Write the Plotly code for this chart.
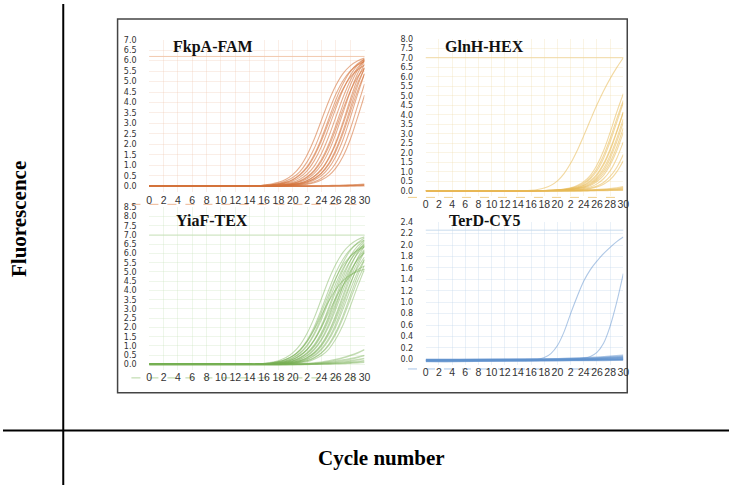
import plotly.graph_objects as go

# ---------------- data ----------------
cycles = list(range(0, 31))
baseline_zeros = [0.0] * 16          # cycles 0..15 sit on the baseline
sparse_cycles = [0, 5, 10, 15, 20, 25, 30]

x_tick_vals = list(range(0, 31, 2))
x_tick_text = ["0", "2", "4", "6", "8", "10", "12", "14", "16", "18", "20", "2", "24", "26", "28", "30"]

panel_titles = ["FkpA-FAM", "GlnH-HEX", "YiaF-TEX", "TerD-CY5"]

# values for cycles 16..30
fkpa_rising = [
    [0.06, 0.10, 0.18, 0.32, 0.55, 0.92, 1.49, 2.25, 3.15, 4.05, 4.81, 5.38, 5.75, 5.98, 6.12],
    [0.04, 0.07, 0.13, 0.24, 0.41, 0.70, 1.16, 1.81, 2.65, 3.55, 4.39, 5.04, 5.50, 5.79, 5.96],
    [0.03, 0.06, 0.10, 0.18, 0.32, 0.56, 0.93, 1.51, 2.28, 3.20, 4.12, 4.89, 5.47, 5.84, 6.08],
    [0.02, 0.04, 0.08, 0.14, 0.25, 0.43, 0.73, 1.22, 1.90, 2.78, 3.72, 4.60, 5.28, 5.77, 6.07],
    [0.02, 0.03, 0.06, 0.11, 0.18, 0.33, 0.57, 0.96, 1.56, 2.36, 3.30, 4.24, 5.04, 5.64, 6.03],
    [0.01, 0.03, 0.05, 0.08, 0.14, 0.26, 0.45, 0.77, 1.27, 1.99, 2.90, 3.90, 4.81, 5.53, 6.03],
    [0.01, 0.02, 0.04, 0.06, 0.11, 0.20, 0.35, 0.61, 1.02, 1.65, 2.50, 3.50, 4.50, 5.35, 5.98],
    [0.01, 0.01, 0.03, 0.05, 0.09, 0.15, 0.27, 0.48, 0.81, 1.35, 2.10, 3.07, 4.13, 5.10, 5.85],
    [0.01, 0.01, 0.02, 0.04, 0.07, 0.12, 0.21, 0.37, 0.64, 1.08, 1.75, 2.64, 3.70, 4.76, 5.65],
    [0.01, 0.01, 0.01, 0.03, 0.05, 0.09, 0.16, 0.29, 0.50, 0.86, 1.42, 2.22, 3.25, 4.35, 5.38],
    [0.00, 0.01, 0.01, 0.02, 0.04, 0.07, 0.12, 0.21, 0.38, 0.66, 1.11, 1.79, 2.71, 3.80, 4.89],
    [0.00, 0.00, 0.01, 0.01, 0.03, 0.05, 0.09, 0.16, 0.29, 0.50, 0.86, 1.42, 2.22, 3.25, 4.35],
    [0.03, 0.06, 0.10, 0.17, 0.30, 0.53, 0.88, 1.43, 2.17, 3.04, 3.91, 4.65, 5.20, 5.55, 5.78],
    [0.01, 0.03, 0.05, 0.08, 0.13, 0.24, 0.42, 0.72, 1.19, 1.87, 2.73, 3.67, 4.52, 5.20, 5.67],
    [0.01, 0.01, 0.03, 0.05, 0.09, 0.14, 0.26, 0.46, 0.78, 1.30, 2.02, 2.95, 3.96, 4.90, 5.62],
    [0.01, 0.01, 0.02, 0.04, 0.07, 0.11, 0.20, 0.35, 0.61, 1.03, 1.66, 2.51, 3.52, 4.52, 5.37],
]
fkpa_flat = [
    [0.00, 0.00, 0.00, 0.00, 0.00, 0.00, 0.00, 0.01, 0.01, 0.02, 0.03, 0.04, 0.05, 0.07, 0.09],
    [0.00, 0.00, 0.00, 0.00, 0.00, 0.00, 0.00, 0.00, 0.01, 0.01, 0.02, 0.02, 0.03, 0.04, 0.05],
    [0.00, 0.00, 0.00, 0.00, 0.00, 0.00, 0.00, 0.00, 0.00, 0.01, 0.01, 0.01, 0.02, 0.02, 0.03],
]

glnh_rising = [
    [0.02, 0.06, 0.14, 0.28, 0.52, 0.90, 1.44, 2.12, 2.90, 3.72, 4.52, 5.25, 5.90, 6.48, 7.00],
    [0.00, 0.01, 0.01, 0.03, 0.05, 0.09, 0.15, 0.27, 0.48, 0.81, 1.35, 2.10, 3.07, 4.13, 5.10],
    [0.00, 0.01, 0.01, 0.02, 0.04, 0.06, 0.12, 0.20, 0.36, 0.63, 1.05, 1.70, 2.57, 3.60, 4.63],
    [0.00, 0.00, 0.01, 0.01, 0.03, 0.05, 0.09, 0.15, 0.27, 0.48, 0.81, 1.35, 2.10, 3.07, 4.13],
    [0.00, 0.00, 0.01, 0.01, 0.02, 0.04, 0.06, 0.12, 0.20, 0.36, 0.63, 1.05, 1.70, 2.57, 3.60],
    [0.00, 0.00, 0.00, 0.01, 0.01, 0.03, 0.05, 0.09, 0.15, 0.27, 0.48, 0.81, 1.35, 2.10, 3.07],
    [0.00, 0.00, 0.00, 0.01, 0.01, 0.02, 0.04, 0.06, 0.12, 0.20, 0.36, 0.63, 1.05, 1.70, 2.57],
    [0.00, 0.01, 0.01, 0.02, 0.03, 0.05, 0.10, 0.17, 0.30, 0.53, 0.88, 1.43, 2.20, 3.14, 4.14],
    [0.00, 0.00, 0.01, 0.01, 0.02, 0.04, 0.07, 0.13, 0.23, 0.41, 0.70, 1.17, 1.85, 2.75, 3.78],
    [0.00, 0.00, 0.00, 0.01, 0.02, 0.03, 0.06, 0.10, 0.18, 0.32, 0.55, 0.93, 1.50, 2.30, 3.30],
    [0.00, 0.01, 0.01, 0.02, 0.04, 0.07, 0.13, 0.23, 0.41, 0.70, 1.17, 1.85, 2.75, 3.78, 4.75],
    [0.00, 0.00, 0.00, 0.00, 0.01, 0.01, 0.02, 0.04, 0.08, 0.14, 0.25, 0.43, 0.75, 1.22, 1.90],
    [0.00, 0.00, 0.00, 0.00, 0.00, 0.01, 0.02, 0.03, 0.06, 0.11, 0.19, 0.34, 0.58, 0.99, 1.58],
]
glnh_flat = [
    [0.00, 0.00, 0.00, 0.00, 0.00, 0.00, 0.01, 0.01, 0.02, 0.03, 0.05, 0.07, 0.10, 0.14, 0.20],
    [0.00, 0.00, 0.00, 0.00, 0.00, 0.00, 0.00, 0.01, 0.01, 0.02, 0.03, 0.04, 0.06, 0.09, 0.13],
    [0.00, 0.00, 0.00, 0.00, 0.00, 0.00, 0.00, 0.00, 0.01, 0.01, 0.02, 0.03, 0.04, 0.05, 0.07],
    [0.00, 0.00, 0.00, 0.00, 0.00, 0.00, 0.00, 0.00, 0.00, 0.01, 0.01, 0.01, 0.02, 0.03, 0.04],
]

yiaf_rising = [
    [0.06, 0.11, 0.20, 0.36, 0.62, 1.04, 1.68, 2.53, 3.55, 4.57, 5.42, 6.06, 6.48, 6.75, 6.90],
    [0.05, 0.08, 0.15, 0.27, 0.46, 0.79, 1.31, 2.04, 2.99, 4.01, 4.96, 5.69, 6.21, 6.54, 6.73],
    [0.04, 0.06, 0.12, 0.20, 0.36, 0.63, 1.05, 1.70, 2.57, 3.60, 4.63, 5.50, 6.15, 6.57, 6.84],
    [0.03, 0.06, 0.11, 0.19, 0.34, 0.59, 0.99, 1.60, 2.43, 3.40, 4.37, 5.20, 5.81, 6.21, 6.46],
    [0.03, 0.05, 0.09, 0.15, 0.27, 0.48, 0.81, 1.35, 2.10, 3.07, 4.13, 5.10, 5.85, 6.39, 6.72],
    [0.03, 0.05, 0.08, 0.14, 0.26, 0.46, 0.78, 1.29, 2.01, 2.95, 3.95, 4.89, 5.61, 6.12, 6.44],
    [0.02, 0.04, 0.07, 0.12, 0.20, 0.37, 0.64, 1.07, 1.72, 2.61, 3.65, 4.69, 5.58, 6.23, 6.66],
    [0.02, 0.04, 0.06, 0.11, 0.20, 0.35, 0.61, 1.02, 1.65, 2.50, 3.50, 4.50, 5.35, 5.98, 6.39],
    [0.01, 0.03, 0.05, 0.09, 0.16, 0.28, 0.49, 0.84, 1.38, 2.16, 3.16, 4.24, 5.24, 6.02, 6.56],
    [0.01, 0.03, 0.05, 0.08, 0.15, 0.27, 0.46, 0.79, 1.31, 2.04, 2.99, 4.01, 4.96, 5.69, 6.21],
    [0.01, 0.02, 0.04, 0.07, 0.12, 0.21, 0.38, 0.65, 1.10, 1.77, 2.68, 3.75, 4.82, 5.73, 6.41],
    [0.01, 0.02, 0.04, 0.06, 0.12, 0.20, 0.36, 0.63, 1.05, 1.70, 2.57, 3.60, 4.63, 5.50, 6.15],
    [0.01, 0.02, 0.03, 0.05, 0.09, 0.16, 0.29, 0.50, 0.85, 1.40, 2.19, 3.20, 4.30, 5.31, 6.10],
    [0.01, 0.01, 0.03, 0.05, 0.08, 0.15, 0.27, 0.46, 0.79, 1.31, 2.04, 2.99, 4.01, 4.96, 5.69],
    [0.01, 0.01, 0.02, 0.04, 0.07, 0.12, 0.21, 0.37, 0.64, 1.08, 1.75, 2.64, 3.70, 4.76, 5.65],
    [0.01, 0.01, 0.02, 0.04, 0.06, 0.11, 0.20, 0.35, 0.61, 1.02, 1.65, 2.50, 3.50, 4.50, 5.35],
    [0.00, 0.01, 0.01, 0.03, 0.05, 0.09, 0.15, 0.28, 0.48, 0.82, 1.37, 2.13, 3.12, 4.18, 5.17],
    [0.04, 0.08, 0.14, 0.25, 0.44, 0.75, 1.23, 1.93, 2.82, 3.78, 4.67, 5.37, 5.85, 6.16, 6.35],
    [0.02, 0.03, 0.06, 0.11, 0.18, 0.33, 0.57, 0.96, 1.56, 2.36, 3.30, 4.24, 5.04, 5.64, 6.03],
    [0.01, 0.02, 0.03, 0.06, 0.11, 0.19, 0.34, 0.59, 0.99, 1.60, 2.43, 3.40, 4.37, 5.20, 5.81],
    [0.03, 0.05, 0.09, 0.16, 0.28, 0.49, 0.82, 1.32, 2.00, 2.80, 3.60, 4.28, 4.78, 5.11, 5.32],
    [0.05, 0.08, 0.15, 0.27, 0.46, 0.77, 1.25, 1.89, 2.65, 3.41, 4.05, 4.53, 4.84, 5.03, 5.15],
]
yiaf_flat = [
    [0.00, 0.00, 0.00, 0.01, 0.02, 0.03, 0.05, 0.08, 0.12, 0.18, 0.26, 0.36, 0.48, 0.62, 0.80],
    [0.00, 0.00, 0.00, 0.00, 0.01, 0.02, 0.03, 0.05, 0.08, 0.12, 0.17, 0.23, 0.30, 0.38, 0.48],
    [0.00, 0.00, 0.00, 0.00, 0.00, 0.01, 0.02, 0.03, 0.05, 0.07, 0.10, 0.14, 0.19, 0.25, 0.32],
    [0.00, 0.00, 0.00, 0.00, 0.00, 0.00, 0.01, 0.02, 0.03, 0.04, 0.06, 0.08, 0.11, 0.15, 0.20],
    [0.00, 0.00, 0.00, 0.00, 0.00, 0.00, 0.00, 0.01, 0.02, 0.03, 0.04, 0.05, 0.07, 0.09, 0.12],
]

terd_rising = [
    [0.00, 0.00, 0.03, 0.10, 0.24, 0.48, 0.80, 1.10, 1.37, 1.57, 1.72, 1.85, 1.96, 2.06, 2.14],
    [0.00, 0.00, 0.00, 0.00, 0.00, 0.00, 0.00, 0.01, 0.02, 0.05, 0.12, 0.28, 0.58, 1.00, 1.50],
]
# flat TerD traces, at cycles 0,5,10,15,20,25,30
terd_flat = [
    [-0.04, -0.04, -0.03, -0.03, -0.02, -0.02, -0.01],
    [-0.03, -0.03, -0.03, -0.02, -0.02, -0.01, 0.00],
    [-0.03, -0.02, -0.02, -0.02, -0.01, 0.00, 0.01],
    [-0.02, -0.02, -0.02, -0.01, -0.01, 0.00, 0.02],
    [-0.02, -0.02, -0.01, -0.01, 0.00, 0.01, 0.03],
    [-0.01, -0.01, -0.01, 0.00, 0.00, 0.02, 0.05],
    [-0.01, -0.01, 0.00, 0.00, 0.01, 0.03, 0.07],
    [-0.03, -0.03, -0.02, -0.02, -0.02, -0.01, -0.01],
    [-0.02, -0.02, -0.02, -0.02, -0.01, -0.01, 0.00],
    [-0.01, -0.01, -0.01, -0.01, 0.00, 0.01, 0.04],
]

# ---------------- styling ----------------
W, H = 735, 485
def px_x(v):
    return v / W
def px_y(v):
    return 1 - v / H

panels = [
    dict(x=(148, 366), y=(190, 36), yr=(-0.3, 7.0), dt=0.5, col="rgba(212,115,60,0.58)",
         grid="rgba(240,200,175,0.30)", edge="rgba(240,195,165,0.9)", top=6.2,
         dash=("rgba(230,150,100,0.7)", 202), title=(213, 43)),
    dict(x=(428, 628), y=(194, 35), yr=(-0.3, 8.0), dt=0.5, col="rgba(232,185,85,0.55)",
         grid="rgba(240,220,170,0.30)", edge="rgba(240,215,160,0.9)", top=7.0,
         dash=("rgba(235,195,110,0.8)", 195), title=(487, 43)),
    dict(x=(148, 366), y=(369, 205), yr=(-0.3, 8.5), dt=0.5, col="rgba(120,175,85,0.45)",
         grid="rgba(200,225,185,0.30)", edge="rgba(200,225,185,0.9)", top=7.0,
         dash=("rgba(150,195,120,0.7)", 377), title=(212, 218)),
    dict(x=(428, 628), y=(364, 220), yr=(-0.1, 2.4), dt=0.2, col="rgba(95,145,205,0.5)",
         grid="rgba(195,215,235,0.35)", edge="rgba(195,215,235,0.9)", top=2.26,
         dash=("rgba(130,170,220,0.7)", 368), title=(487, 218)),
]

fig = go.Figure()

def add_curves(idx, rising, flat, sparse=False):
    p = panels[idx]
    xa = "x" if idx == 0 else f"x{idx+1}"
    ya = "y" if idx == 0 else f"y{idx+1}"
    for vals in flat:
        if sparse:
            xs, ys = sparse_cycles, vals
        else:
            xs, ys = cycles, baseline_zeros + vals
        fig.add_trace(go.Scatter(x=xs, y=ys, mode="lines", xaxis=xa, yaxis=ya,
                                 line=dict(color=p["col"], width=1.6, shape="spline"),
                                 showlegend=False, hoverinfo="skip"))
    for vals in rising:
        fig.add_trace(go.Scatter(x=cycles, y=baseline_zeros + vals, mode="lines", xaxis=xa, yaxis=ya,
                                 line=dict(color=p["col"], width=1.1, shape="spline"),
                                 showlegend=False, hoverinfo="skip"))

add_curves(0, fkpa_rising, fkpa_flat)
add_curves(1, glnh_rising, glnh_flat)
add_curves(2, yiaf_rising, yiaf_flat)
add_curves(3, terd_rising, terd_flat, sparse=True)

x_font = dict(family="Liberation Sans, Arial, sans-serif", size=10.5, color="#333333")
y_font = dict(family="DejaVu Sans, Verdana, sans-serif", size=8, color="#333333")
layout = dict(
    width=W, height=H, margin=dict(l=0, r=0, t=0, b=0),
    paper_bgcolor="white", plot_bgcolor="white", showlegend=False,
)
shapes = []
annotations = []
for i, p in enumerate(panels):
    sx = "" if i == 0 else str(i + 1)
    layout[f"xaxis{sx}"] = dict(
        domain=[px_x(p["x"][0]), px_x(p["x"][1])], range=[0, 30], anchor=f"y{sx}",
        tickmode="array", tickvals=x_tick_vals, ticktext=x_tick_text, tickangle=0,
        tickfont=x_font, showgrid=True, gridcolor=p["grid"], gridwidth=1,
        zeroline=False, showline=False, ticks="", fixedrange=True,
    )
    layout[f"yaxis{sx}"] = dict(
        domain=[px_y(p["y"][0]), px_y(p["y"][1])], range=list(p["yr"]), anchor=f"x{sx}",
        dtick=p["dt"], tick0=0, tickformat=".1f", tickfont=y_font,
        showgrid=True, gridcolor=p["grid"], gridwidth=1, zeroline=False, showline=False,
        ticks="outside", ticklen=10, tickcolor="rgba(0,0,0,0)", fixedrange=True,
    )
    shapes.append(dict(type="line", xref=f"x{sx} domain", yref=f"y{sx}", x0=0, x1=1,
                       y0=p["top"], y1=p["top"], line=dict(color=p["edge"], width=1)))
    shapes.append(dict(type="line", xref="paper", yref="paper",
                       x0=px_x(p["x"][0] - 18), x1=px_x(p["x"][1]),
                       y0=px_y(p["dash"][1]), y1=px_y(p["dash"][1]),
                       line=dict(color=p["dash"][0], width=1, dash="dash"), layer="below"))
    annotations.append(dict(text=f"<b>{panel_titles[i]}</b>", xref="paper", yref="paper",
                            x=px_x(p["title"][0]), y=px_y(p["title"][1]), showarrow=False,
                            xanchor="center", yanchor="middle",
                            font=dict(family="Liberation Serif, Times New Roman, serif", size=16, color="#111111")))

# outer frame: axis lines and inner box
shapes.append(dict(type="line", xref="paper", yref="paper", x0=px_x(61), x1=px_x(61), y0=0, y1=1,
                   line=dict(color="black", width=2)))
shapes.append(dict(type="line", xref="paper", yref="paper", x0=0, x1=1, y0=px_y(430), y1=px_y(430),
                   line=dict(color="black", width=2)))
shapes.append(dict(type="rect", xref="paper", yref="paper", x0=px_x(116), x1=px_x(632),
                   y0=px_y(392), y1=px_y(15), line=dict(color="#444444", width=1.5), layer="below"))

annotations.append(dict(text="<b>Fluorescence</b>", xref="paper", yref="paper", x=px_x(16), y=px_y(217),
                        showarrow=False, textangle=-90, xanchor="center", yanchor="middle",
                        font=dict(family="Liberation Serif, Times New Roman, serif", size=21, color="black")))
annotations.append(dict(text="<b>Cycle number</b>", xref="paper", yref="paper", x=px_x(383), y=px_y(458),
                        showarrow=False, xanchor="center", yanchor="middle",
                        font=dict(family="Liberation Serif, Times New Roman, serif", size=21, color="black")))

layout["shapes"] = shapes
layout["annotations"] = annotations
fig.update_layout(**layout)
fig.write_html("out.html", include_plotlyjs=True, config={"displayModeBar": False})
